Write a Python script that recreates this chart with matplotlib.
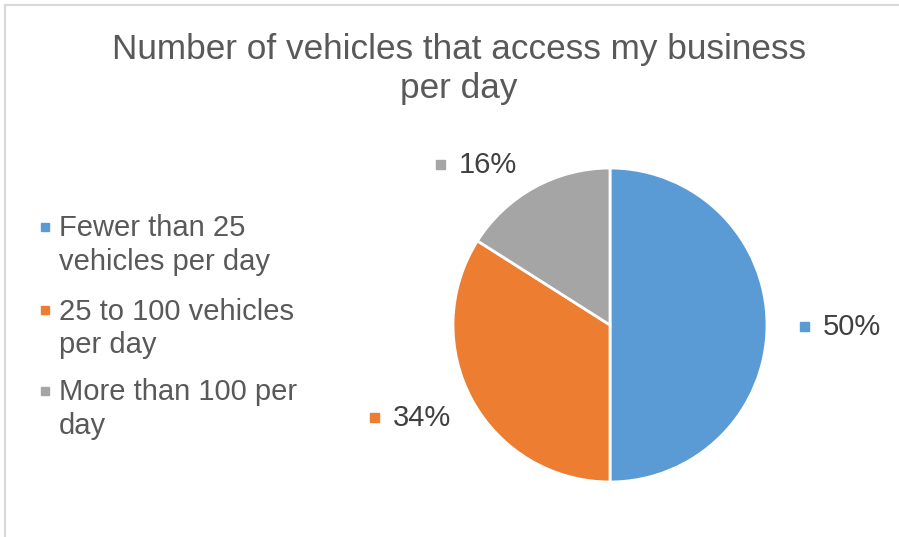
import matplotlib
matplotlib.use('Agg')
import numpy as np
import matplotlib.pyplot as plt
from matplotlib.patches import Rectangle
from matplotlib.lines import Line2D

plt.rcParams['font.family'] = ['Liberation Sans', 'DejaVu Sans']

# chart data
title = 'Number of vehicles that access my business\nper day'
categories = ['Fewer than 25\nvehicles per day', '25 to 100 vehicles\nper day', 'More than 100 per\nday']
shares = [50, 34, 16]
colors = ['#5B9BD5', '#ED7D31', '#A5A5A5']

# label block positions (marker centre) in pie-radius units
label_pos = [(1.24, -0.01), (-1.50, -0.59), (-1.08, 1.02)]

W, H = 899, 537
fig = plt.figure(figsize=(W / 100, H / 100), dpi=100)

# light border (left and top edges visible)
fig.add_artist(Line2D([4.5 / W, 4.5 / W], [0, 1 - 5 / H], color='#D9D9D9', lw=1.5))
fig.add_artist(Line2D([4.5 / W, 1], [1 - 5 / H, 1 - 5 / H], color='#D9D9D9', lw=1.5))

# va='baseline' pins the last line's baseline
fig.text(459 / W, 1 - 98 / H, title, ha='center', va='baseline', fontsize=25.3,
         color='#595959', linespacing=1.25)

# pie: centre (610, 325) px, radius 157 px
r = 157
ax = fig.add_axes([(610 - r) / W, (H - 325 - r) / H, 2 * r / W, 2 * r / H])
wedges, _ = ax.pie(shares, colors=colors, startangle=90, counterclock=False,
                   wedgeprops=dict(edgecolor='white', linewidth=2))
ax.set_xlim(-1, 1)
ax.set_ylim(-1, 1)
ax.axis('off')

sq = 9 / r
for val, col, (x, y) in zip(shares, colors, label_pos):
    ax.add_patch(Rectangle((x - sq / 2, y - sq / 2), sq, sq, color=col, clip_on=False))
    ax.text(x + 18 / r, y, f'{val}%', ha='left', va='center', fontsize=21,
            color='#404040', clip_on=False)

# legend, drawn by hand so the marker sits on the first text line
leg_base = [237, 320, 401]
line_gap = 33
for lab, col, y in zip(categories, colors, leg_base):
    fig.add_artist(Rectangle((41 / W, (H - y + 6) / H), 8 / W, 8 / H, color=col))
    fig.text(59 / W, 1 - (y + line_gap) / H, lab, ha='left', va='baseline', fontsize=21,
             color='#595959', linespacing=1.25)

fig.savefig('out.png', dpi=100, facecolor='white')
